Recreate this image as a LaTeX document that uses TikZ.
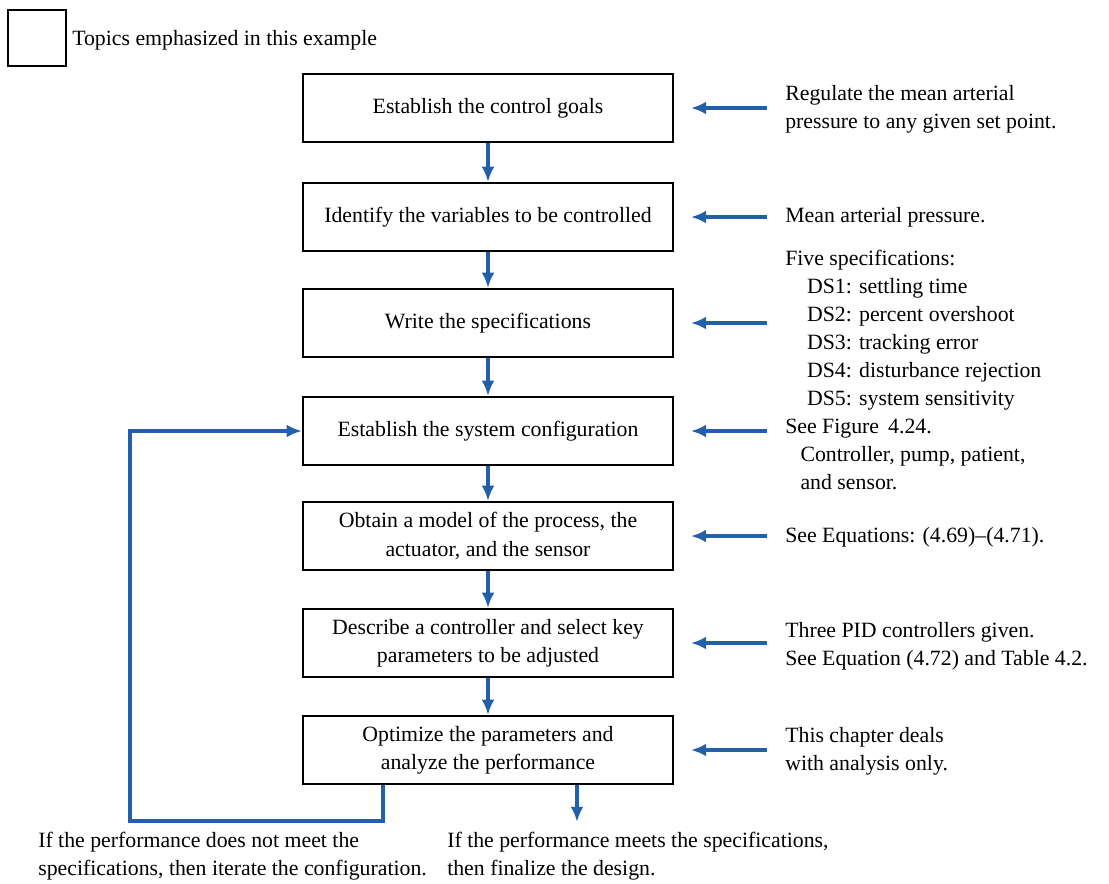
\documentclass[tikz,border=0pt]{standalone}
\usepackage{fontspec}
\setmainfont{Liberation Serif}
\usetikzlibrary{arrows.meta}
\definecolor{flowblue}{RGB}{36,96,170}
\tikzset{stepbox/.style={draw,line width=1.5pt,align=center,minimum width=9.25cm,minimum height=1.7cm,inner sep=4pt,font=\fontsize{15.5}{20}\selectfont},note/.style={align=left,inner sep=0pt,font=\fontsize{15.5}{20}\selectfont},edge/.style={-{Latex[length=3.8mm,width=3.2mm]},line width=2.6pt,flowblue},feed/.style={edge,shorten >=4.2mm,shorten <=4.5mm}}
\begin{document}
\begin{tikzpicture}[x=0.025cm,y=-0.025cm]
\useasboundingbox (0,0) rectangle (1109,883);
\node[draw,line width=1.5pt,minimum width=1.43cm,minimum height=1.38cm] (key) at (37,38) {};
\node[note,anchor=west] (keytext) at (72,40) {Topics emphasized in this example};
\node[stepbox] (goals) at (488,108) {Establish the control goals};
\node[stepbox] (vars) at (488,217) {Identify the variables to be controlled};
\node[stepbox] (specs) at (488,323) {Write the specifications};
\node[stepbox] (config) at (488,431) {Establish the system configuration};
\node[stepbox] (model) at (488,536) {Obtain a model of the process, the\\actuator, and the sensor};
\node[stepbox] (ctrl) at (488,643) {Describe a controller and select key\\parameters to be adjusted};
\node[stepbox] (optim) at (488,750) {Optimize the parameters and\\analyze the performance};
\node[note,anchor=west] (goalnote) at (785,109) {Regulate the mean arterial\\pressure to any given set point.};
\node[note,anchor=west] (varnote) at (785,217) {Mean arterial pressure.};
\node[note,anchor=west] (specnote) at (785,330) {Five specifications:\\\hspace*{1em}DS1: settling time\\\hspace*{1em}DS2: percent overshoot\\\hspace*{1em}DS3: tracking error\\\hspace*{1em}DS4: disturbance rejection\\\hspace*{1em}DS5: system sensitivity};
\node[note,anchor=north west] (confignote) at (785,419) {See Figure\, 4.24.\\\hspace*{0.7em}Controller, pump, patient,\\\hspace*{0.7em}and sensor.};
\node[note,anchor=west] (modelnote) at (785,537) {See Equations: (4.69)--(4.71).};
\node[note,anchor=west] (ctrlnote) at (785,646) {Three PID controllers given.\\See Equation (4.72) and Table 4.2.};
\node[note,anchor=west] (optimnote) at (785,751) {This chapter deals\\with analysis only.};
\node[note,anchor=north west] (failnote) at (38,832) {If the performance does not meet the\\specifications, then iterate the configuration.};
\node[note,anchor=north west] (passnote) at (447,832) {If the performance meets the specifications,\\then finalize the design.};
\coordinate (loopstart) at (383,821);
\coordinate (loopcorner) at (130,821);
\coordinate (finish) at (577,822);
\draw[edge] (goals)--(vars);
\draw[edge] (vars)--(specs);
\draw[edge] (specs)--(config);
\draw[edge] (config)--(model);
\draw[edge] (model)--(ctrl);
\draw[edge] (ctrl)--(optim);
\draw[edge] (optim.south -| loopstart)--(loopstart)--(loopcorner)|-(config.west);
\draw[edge] (optim.south -| finish)--(finish);
\draw[feed] (goalnote.west |- goals.east)--(goals.east);
\draw[feed] (varnote.west |- vars.east)--(vars.east);
\draw[feed] (specnote.west |- specs.east)--(specs.east);
\draw[feed] (confignote.west |- config.east)--(config.east);
\draw[feed] (modelnote.west |- model.east)--(model.east);
\draw[feed] (ctrlnote.west |- ctrl.east)--(ctrl.east);
\draw[feed] (optimnote.west |- optim.east)--(optim.east);
\end{tikzpicture}
\end{document}
